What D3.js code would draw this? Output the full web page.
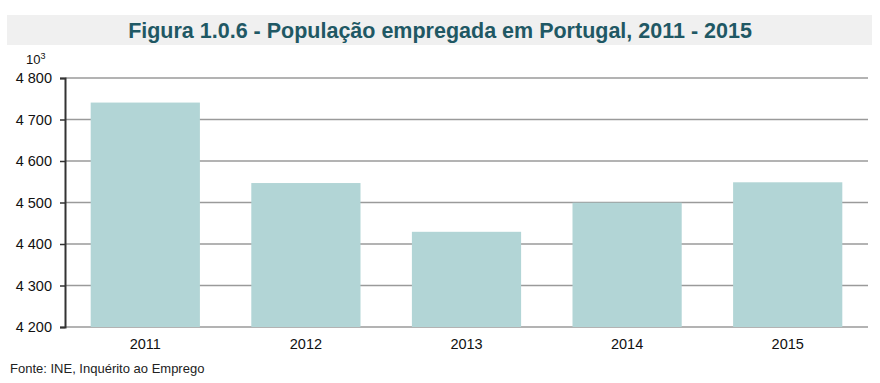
<!DOCTYPE html>
<html>
<head>
<meta charset="utf-8">
<script src="https://cdn.jsdelivr.net/npm/d3@7"></script>
<style>
  body { margin: 0; background: #fff; }
  svg { font-family: "Liberation Sans", Arial, sans-serif; }
</style>
</head>
<body>
<script>
// data (milhares de pessoas)
const years = ["2011", "2012", "2013", "2014", "2015"];
const employed = [4740.8, 4546.9, 4429.4, 4499.5, 4548.7];
const yTicks = [4200, 4300, 4400, 4500, 4600, 4700, 4800];

const w = 880;
const h = 383;
const plotLeft = 65, plotRight = 868, plotTop = 78, plotBottom = 327;

const svg = d3.select("body").append("svg").attr("width", w).attr("height", h);

// title banner
svg.append("rect")
  .attr("x", 7).attr("y", 15).attr("width", 865).attr("height", 30)
  .attr("fill", "#f0f0f0");
svg.append("text")
  .attr("x", 440).attr("y", 38)
  .attr("text-anchor", "middle")
  .attr("fill", "#1f5864")
  .style("font-family", "'Liberation Sans Narrow', 'Liberation Sans', Arial, sans-serif")
  .style("font-weight", "bold")
  .style("font-size", "21.5px")
  .text("Figura 1.0.6 - População empregada em Portugal, 2011 - 2015");

const xScale = d3.scaleBand()
  .domain(years)
  .range([plotLeft, plotRight])
  .paddingInner(0.32)
  .paddingOuter(0.16);

const yScale = d3.scaleLinear()
  .domain([4200, 4800])
  .range([plotBottom, plotTop]);

const fmt = (v) => d3.format(",")(v).replace(",", " ");

// gridlines
svg.append("g")
  .selectAll("line")
  .data(yTicks)
  .enter()
  .append("line")
  .attr("x1", plotLeft).attr("x2", plotRight)
  .attr("y1", (d) => yScale(d)).attr("y2", (d) => yScale(d))
  .attr("stroke", "#9a9a9a")
  .attr("stroke-width", 1.5);

// bars
svg.selectAll("rect.bar")
  .data(employed)
  .enter()
  .append("rect")
  .attr("class", "bar")
  .attr("x", (d, i) => xScale(years[i]))
  .attr("y", (d) => yScale(d))
  .attr("width", xScale.bandwidth())
  .attr("height", (d) => plotBottom - yScale(d))
  .attr("fill", "#b2d5d6");

// y axis
const yAxis = d3.axisLeft(yScale)
  .tickValues(yTicks)
  .tickSize(5)
  .tickPadding(8)
  .tickFormat(fmt);

const gy = svg.append("g")
  .attr("transform", "translate(" + plotLeft + ",0)")
  .call(yAxis);
gy.select(".domain").attr("stroke", "#333").attr("stroke-width", 2);
gy.selectAll(".tick line").attr("stroke", "#333").attr("stroke-width", 1.5);
gy.selectAll(".tick text").attr("fill", "#111").style("font-size", "14.5px");

// x axis labels
const xAxis = d3.axisBottom(xScale).tickSize(0).tickPadding(12);
const gx = svg.append("g")
  .attr("transform", "translate(0," + plotBottom + ")")
  .call(xAxis);
gx.select(".domain").remove();
gx.selectAll(".tick text").attr("fill", "#111").style("font-size", "14.5px");

// unit
const unit = svg.append("text")
  .attr("x", 26).attr("y", 64)
  .attr("fill", "#111")
  .style("font-size", "13px")
  .text("10");
unit.append("tspan")
  .attr("dy", -5)
  .style("font-size", "9px")
  .text("3");

// source
svg.append("text")
  .attr("x", 10).attr("y", 373)
  .attr("fill", "#222")
  .style("font-size", "13px")
  .text("Fonte: INE, Inquérito ao Emprego");
</script>
</body>
</html>
